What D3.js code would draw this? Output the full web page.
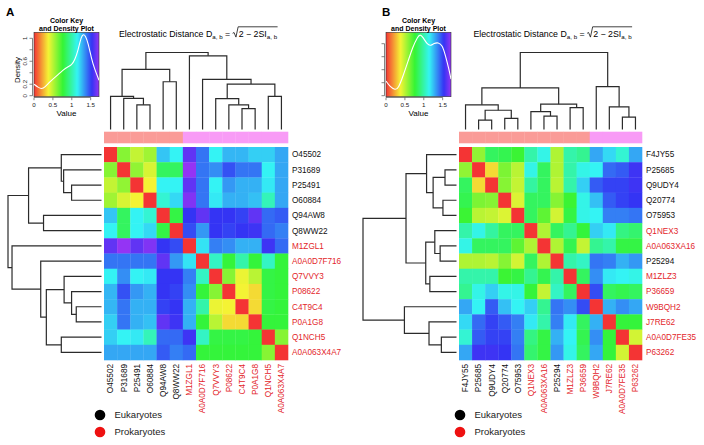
<!DOCTYPE html>
<html>
<head>
<meta charset="utf-8">
<script src="https://cdn.jsdelivr.net/npm/d3@7"></script>
<style>
body { margin: 0; background: #fff; }
svg { display: block; font-family: "Liberation Sans", Arial, Helvetica, sans-serif; }
</style>
</head>
<body>
<svg id="chart" width="704" height="445"></svg>
<script>
// ---------- data: panel A ----------
var labelsA = ["O45502", "P31689", "P25491", "O60884", "Q94AW8", "Q8WW22", "M1ZGL1",
  "A0A0D7F716", "Q7VVY3", "P08622", "C4T9C4", "P0A1G8", "Q1NCH5", "A0A063X4A7"];
var kingdomA = ["E", "E", "E", "E", "E", "E", "P", "P", "P", "P", "P", "P", "P", "P"];
var clusterA = [1, 1, 1, 1, 1, 1, 2, 2, 2, 2, 2, 2, 2, 2];
var distA = [
  [0, .6, .48, .55, 1.24, 1.15, 1.62, 1.4, 1.15, 1.27, 1.27, 1.22, 1.22, 1.3],
  [.6, 0, .58, .44, .85, .85, 1.72, 1.4, 1.35, 1.47, 1.4, 1.4, 1.15, 1.3],
  [.48, .58, 0, .38, 1.15, 1.15, 1.62, 1.4, 1.15, 1.33, 1.28, 1.28, 1.17, 1.3],
  [.55, .44, .38, 0, 1.08, 1.2, 1.68, 1.4, 1.17, 1.28, 1.28, 1.25, 1.03, 1.3],
  [1.24, .85, 1.15, 1.08, 0, .8, 1.53, 1.62, 1.53, 1.53, 1.5, 1.62, 1.42, 1.45],
  [1.15, .85, 1.15, 1.2, .8, 0, 1.48, 1.33, 1.53, 1.5, 1.53, 1.55, 1.42, 1.38],
  [1.62, 1.72, 1.62, 1.68, 1.53, 1.48, 0, 1.18, 1.38, 1.35, 1.28, 1.28, 1.55, 1.42],
  [1.4, 1.4, 1.4, 1.4, 1.62, 1.33, 1.18, 0, 1.05, .78, 1.0, .78, 1.05, .78],
  [1.15, 1.35, 1.15, 1.17, 1.53, 1.53, 1.38, 1.05, 0, .6, .4, .5, .8, .78],
  [1.27, 1.47, 1.33, 1.28, 1.53, 1.5, 1.35, .78, .6, 0, .38, .33, .8, .78],
  [1.27, 1.4, 1.28, 1.28, 1.5, 1.53, 1.28, 1.0, .4, .38, 0, .33, .8, .78],
  [1.22, 1.4, 1.28, 1.25, 1.62, 1.55, 1.28, .78, .5, .33, .33, 0, .78, .78],
  [1.22, 1.15, 1.17, 1.03, 1.42, 1.42, 1.55, 1.05, .8, .8, .8, .78, 0, .6],
  [1.3, 1.3, 1.3, 1.3, 1.45, 1.38, 1.42, .78, .78, .78, .78, .78, .6, 0]
];
// hclust style merges: negative = leaf (1-based, display order), positive = earlier merge
var mergesA = [
  [-3, -4, 0.32], [-2, 1, 0.405], [-1, 2, 0.43], [-5, -6, 0.62], [3, 4, 0.78],
  [-11, -12, 0.27], [-10, 6, 0.32], [-9, 7, 0.40], [-13, -14, 0.43], [8, 9, 0.59],
  [-8, 10, 0.65], [-7, 11, 0.957], [5, 12, 1.0]
];
var keyValuesA = [0, .11, .2, .29, .42, .6, .77, .9, .99, 1.08, 1.17, 1.25, 1.3, 1.36, 1.43, 1.52, 1.6, 1.72];
var keyDensityA = [.2, .145, .116, .145, .245, .344, .45, .506, .53, .62, .8, 1.03, 1.07, 1.05, .92, .65, .47, .27];
var densTicksA = [0, .2, .4, .6, .8, 1];
var densTickLabelsA = ["0", "0.2", "", "0.6", "", "1"];

// ---------- data: panel B ----------
var labelsB = ["F4JY55", "P25685", "Q9UDY4", "Q20774", "O75953", "Q1NEX3", "A0A063XA16",
  "P25294", "M1ZLZ3", "P36659", "W9BQH2", "J7RE62", "A0A0D7FE35", "P63262"];
var kingdomB = ["E", "E", "E", "E", "E", "P", "P", "E", "P", "P", "P", "P", "P", "P"];
var clusterB = [1, 1, 1, 1, 1, 1, 1, 1, 1, 1, 2, 2, 2, 2];
var distB = [
  [0, .58, .85, .82, .75, 1.0, 1.12, .52, 1.0, .95, 1.3, 1.2, 1.08, 1.3],
  [.58, 0, .33, .62, .5, 1.12, .85, .52, 1.0, 1.12, 1.15, 1.42, 1.45, 1.55],
  [.85, .33, 0, .6, .48, .98, .85, .5, 1.0, 1.22, 1.45, 1.5, 1.5, 1.55],
  [.82, .62, .6, 0, .43, .85, .85, .6, .75, 1.12, 1.25, 1.45, 1.5, 1.53],
  [.75, .5, .48, .43, 0, .85, .68, .45, .8, 1.12, 1.15, 1.38, 1.38, 1.4],
  [1.0, 1.12, .98, .85, .85, 0, .52, .85, .95, .78, 1.22, 1.17, .92, .88],
  [1.12, .85, .85, .85, .68, .52, 0, .52, .82, .48, .95, 1.0, .8, .8],
  [.52, .52, .5, .6, .45, .85, .52, 0, 1.0, 1.05, 1.4, 1.38, 1.28, 1.33],
  [1.0, 1.0, 1.0, .75, .8, .95, .82, 1.0, 0, .85, 1.35, 1.17, 1.15, 1.12],
  [.95, 1.12, 1.22, 1.12, 1.12, .78, .48, 1.05, .85, 0, 1.48, .85, .82, .85],
  [1.3, 1.15, 1.45, 1.25, 1.15, 1.22, .95, 1.4, 1.35, 1.48, 0, 1.28, 1.35, 1.3],
  [1.2, 1.42, 1.5, 1.45, 1.38, 1.17, 1.0, 1.38, 1.17, .85, 1.28, 0, .78, .78],
  [1.08, 1.45, 1.5, 1.5, 1.38, .92, .8, 1.28, 1.15, .82, 1.35, .78, 0, .45],
  [1.3, 1.55, 1.55, 1.53, 1.4, .88, .8, 1.33, 1.12, .85, 1.3, .78, .45, 0]
];
var mergesB = [
  [-2, -3, 0.123], [-4, -5, 0.145], [1, 2, 0.25], [-1, 3, 0.32], [-7, -8, 0.175],
  [-6, 5, 0.232], [-9, -10, 0.285], [6, 7, 0.329], [4, 8, 0.54], [-13, -14, 0.162],
  [-12, 10, 0.294], [-11, 11, 0.557], [9, 12, 1.0]
];
var keyValuesB = [0, .11, .24, .33, .46, .58, .71, .84, .9, .97, 1.1, 1.19, 1.27, 1.38, 1.49, 1.57, 1.66, 1.72];
var keyDensityB = [.226, .138, .087, .113, .318, .523, .754, .908, .944, .908, .78, .77, .805, .821, .78, .625, .42, .256];
var densTicksB = [0, .2, .4, .6, .8];
var densTickLabelsB = ["", "", "", "", ""];

// ---------- shared ----------
var valueTicks = [0, 0.5, 1, 1.5];
var legendLabels = ["Eukaryotes", "Prokaryotes"];
var legendColors = ["#000000", "#ee1111"];
var clusterColors = {1: "#fa9b97", 2: "#f89bf6"};
var labelColors = {E: "#111111", P: "#e3262b"};

var svg = d3.select('#chart');

// rainbow colour scale: red (0) -> violet (1.72)
var color = d3.scaleSequential(function(t) { return d3.hsl(t * 270, 0.9, 0.58) + ''; })
  .domain([0, 1.72]);

var panels = [
  {letter: 'A', letterX: 6, keyX: 34, densUnit: 57.4, hmX: 104, hmW: 184, rootX: 8, legendX: 100,
   labels: labelsA, kingdom: kingdomA, cluster: clusterA, dist: distA, merges: mergesA,
   keyV: keyValuesA, keyD: keyDensityA, dTicks: densTicksA, dLabels: densTickLabelsA, showDensity: true},
  {letter: 'B', letterX: 382, keyX: 386, densUnit: 65, hmX: 459, hmW: 183, rootX: 363, legendX: 460,
   labels: labelsB, kingdom: kingdomB, cluster: clusterB, dist: distB, merges: mergesB,
   keyV: keyValuesB, keyD: keyDensityB, dTicks: densTicksB, dLabels: densTickLabelsB, showDensity: false}
];

var hmY = 147, hmH = 213;
var barY = 131.7, barH = 11.6;
var topRootY = 52.5, topLeafY = 129.5;
var keyTop = 32.3, keyBottom = 96.7, densZeroY = 95.7, keyW = 65;

// walk the merge list and return segment paths
function dendroPaths(merges) {
  var nodes = [];
  var paths = [];
  function child(k) {
    return k < 0 ? {pos: -k - 1, h: 0} : nodes[k - 1];
  }
  merges.forEach(function(m) {
    var a = child(m[0]), b = child(m[1]);
    nodes.push({pos: (a.pos + b.pos) / 2, h: m[2]});
    paths.push([[a.pos, a.h], [a.pos, m[2]], [b.pos, m[2]], [b.pos, b.h]]);
  });
  return paths;
}

var defs = svg.append('defs');

panels.forEach(function(p) {
  var g = svg.append('g');
  var n = p.labels.length;

  var xBand = d3.scaleBand().domain(d3.range(n)).range([p.hmX, p.hmX + p.hmW]);
  var yBand = d3.scaleBand().domain(d3.range(n)).range([hmY, hmY + hmH]);
  var xPos = d3.scaleLinear().domain([0, n - 1])
    .range([p.hmX + xBand.bandwidth() / 2, p.hmX + p.hmW - xBand.bandwidth() / 2]);
  var yPos = d3.scaleLinear().domain([0, n - 1])
    .range([hmY + yBand.bandwidth() / 2, hmY + hmH - yBand.bandwidth() / 2]);

  // panel letter
  g.append('text').attr('x', p.letterX).attr('y', 16)
    .style('font-size', '11.5px').style('font-weight', 'bold').text(p.letter);

  // heatmap cells
  p.dist.forEach(function(row, i) {
    g.selectAll(null).data(row).enter().append('rect')
      .attr('x', function(d, j) { return xBand(j); })
      .attr('y', yBand(i))
      .attr('width', xBand.bandwidth() + 0.3)
      .attr('height', yBand.bandwidth() + 0.3)
      .attr('fill', function(d) { return color(d); });
  });

  // cluster colour bar
  g.selectAll(null).data(p.cluster).enter().append('rect')
    .attr('x', function(d, j) { return xBand(j); })
    .attr('y', barY)
    .attr('width', xBand.bandwidth() + 0.3)
    .attr('height', barH)
    .attr('fill', function(d) { return clusterColors[d]; });

  // dendrograms
  var paths = dendroPaths(p.merges);
  var hTop = d3.scaleLinear().domain([0, 1]).range([topLeafY, topRootY]);
  var hLeft = d3.scaleLinear().domain([0, 1]).range([p.hmX - 2.5, p.rootX]);
  var lineTop = d3.line().x(function(d) { return xPos(d[0]); }).y(function(d) { return hTop(d[1]); });
  var lineLeft = d3.line().x(function(d) { return hLeft(d[1]); }).y(function(d) { return yPos(d[0]); });
  g.selectAll(null).data(paths).enter().append('path')
    .attr('d', lineTop).attr('fill', 'none').attr('stroke', '#2b2b2b').attr('stroke-width', 1.2);
  g.selectAll(null).data(paths).enter().append('path')
    .attr('d', lineLeft).attr('fill', 'none').attr('stroke', '#2b2b2b').attr('stroke-width', 1.2);

  // row labels
  g.selectAll(null).data(p.labels).enter().append('text')
    .attr('x', p.hmX + p.hmW + 4)
    .attr('y', function(d, i) { return yPos(i); })
    .attr('dy', '0.35em')
    .style('font-size', '8.2px')
    .attr('fill', function(d, i) { return labelColors[p.kingdom[i]]; })
    .text(function(d) { return d; });

  // column labels
  g.selectAll(null).data(p.labels).enter().append('text')
    .attr('transform', function(d, i) {
      return 'translate(' + xPos(i) + ',' + (hmY + hmH + 4) + ') rotate(-90)';
    })
    .attr('dy', '0.35em')
    .attr('text-anchor', 'end')
    .style('font-size', '8.2px')
    .attr('fill', function(d, i) { return labelColors[p.kingdom[i]]; })
    .text(function(d) { return d; });

  // title with square root
  var tg = g.append('g');
  var parts = [
    {t: 'Electrostatic Distance D', fs: 8.8, dy: 0},
    {t: 'a, b', fs: 6.2, dy: 2},
    {t: ' = ', fs: 8.8, dy: 0},
    {root: true},
    {t: '2 \u2212 2SI', fs: 8.8, dy: 0},
    {t: 'a, b', fs: 6.2, dy: 2}
  ];
  var cx = 0, rootStart = 0;
  parts.forEach(function(part) {
    if (part.root) {
      rootStart = cx;
      cx += 6;
      return;
    }
    var t = tg.append('text').attr('x', cx).attr('y', part.dy)
      .style('font-size', part.fs + 'px').attr('xml:space', 'preserve').text(part.t);
    cx += t.node().getComputedTextLength();
  });
  tg.append('path')
    .attr('d', 'M' + rootStart + ',-3.2 l1.4,-0.8 l1.9,4.6 l2.2,-10.3 H' + (cx + 0.5))
    .attr('fill', 'none').attr('stroke', '#111').attr('stroke-width', 0.8);
  var titleCenter = p.hmX + p.hmW / 2 + 2;
  tg.attr('transform', 'translate(' + (titleCenter - cx / 2) + ',36.5)');

  // colour key with density plot
  var xKey = d3.scaleLinear().domain([0, 1.72]).range([p.keyX, p.keyX + keyW]);
  var yKey = d3.scaleLinear().domain([0, 1]).range([densZeroY, densZeroY - p.densUnit]);
  var gradId = 'grad' + p.letter;
  var grad = defs.append('linearGradient').attr('id', gradId)
    .attr('x1', '0%').attr('x2', '100%').attr('y1', '0%').attr('y2', '0%');
  d3.range(0, 1.0001, 0.02).forEach(function(t) {
    grad.append('stop').attr('offset', (t * 100) + '%').attr('stop-color', color(t * 1.72));
  });
  g.append('rect').attr('x', p.keyX).attr('y', keyTop).attr('width', keyW).attr('height', keyBottom - keyTop)
    .attr('fill', 'url(#' + gradId + ')').attr('stroke', '#333').attr('stroke-width', 0.6);
  var clipId = 'clip' + p.letter;
  defs.append('clipPath').attr('id', clipId).append('rect')
    .attr('x', p.keyX).attr('y', keyTop).attr('width', keyW).attr('height', keyBottom - keyTop);
  var densLine = d3.line()
    .x(function(d, i) { return xKey(p.keyV[i]); })
    .y(function(d) { return yKey(d); })
    .curve(d3.curveBasis);
  g.append('path').datum(p.keyD).attr('d', densLine).attr('clip-path', 'url(#' + clipId + ')')
    .attr('fill', 'none').attr('stroke', '#fff').attr('stroke-width', 1.1);

  // key title
  g.append('text').attr('x', p.keyX + keyW / 2).attr('y', 23).attr('text-anchor', 'middle')
    .style('font-size', '7px').style('font-weight', 'bold').text('Color Key');
  g.append('text').attr('x', p.keyX + keyW / 2).attr('y', 30.8).attr('text-anchor', 'middle')
    .style('font-size', '7px').style('font-weight', 'bold').text('and Density Plot');

  // key x axis
  var xa = g.append('g').attr('stroke', '#333').attr('stroke-width', 0.6);
  xa.append('line').attr('x1', xKey(0)).attr('x2', xKey(1.5)).attr('y1', keyBottom + 0.8).attr('y2', keyBottom + 0.8);
  xa.selectAll(null).data(valueTicks).enter().append('line')
    .attr('x1', xKey).attr('x2', xKey).attr('y1', keyBottom + 0.8).attr('y2', keyBottom + 3.5);
  g.selectAll(null).data(valueTicks).enter().append('text')
    .attr('x', xKey).attr('y', 106.5).attr('text-anchor', 'middle')
    .style('font-size', '6.2px').attr('fill', '#222').text(function(d) { return d; });
  g.append('text').attr('x', p.keyX + keyW / 2).attr('y', 115.5).attr('text-anchor', 'middle')
    .style('font-size', '8px').text('Value');

  // key y axis
  var ya = g.append('g').attr('stroke', '#333').attr('stroke-width', 0.6);
  var axX = p.keyX - 1.5;
  ya.append('line').attr('x1', axX).attr('x2', axX)
    .attr('y1', yKey(0)).attr('y2', yKey(p.dTicks[p.dTicks.length - 1]));
  ya.selectAll(null).data(p.dTicks).enter().append('line')
    .attr('x1', axX).attr('x2', axX - 3)
    .attr('y1', yKey).attr('y2', yKey);
  g.selectAll(null).data(p.dTicks).enter().append('text')
    .attr('transform', function(d) { return 'translate(' + (axX - 5.5) + ',' + yKey(d) + ') rotate(-90)'; })
    .attr('text-anchor', 'middle')
    .style('font-size', '6.2px').attr('fill', '#222')
    .text(function(d, i) { return p.dLabels[i]; });
  if (p.showDensity) {
    g.append('text').attr('transform', 'translate(' + (axX - 13) + ',' + 70 + ') rotate(-90)')
      .attr('text-anchor', 'middle').style('font-size', '7.8px').text('Density');
  }

  // legend
  legendLabels.forEach(function(lab, i) {
    var ly = 415 + i * 17;
    g.append('circle').attr('cx', p.legendX).attr('cy', ly).attr('r', 5.3).attr('fill', legendColors[i]);
    g.append('text').attr('x', p.legendX + 14.5).attr('y', ly).attr('dy', '0.35em')
      .style('font-size', '9.5px').attr('fill', '#222').text(lab);
  });
});
</script>
</body>
</html>
